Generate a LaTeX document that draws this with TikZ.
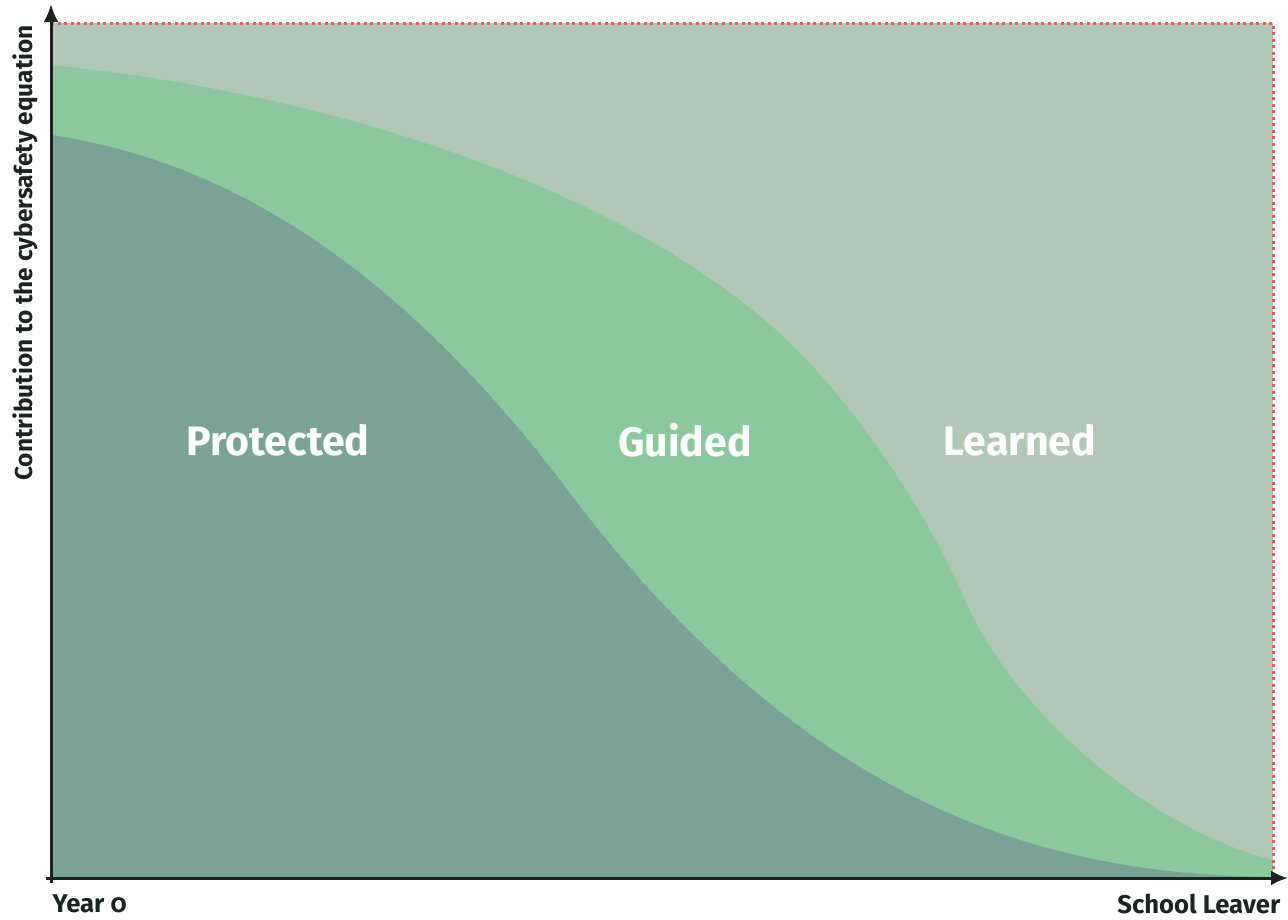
\documentclass[tikz,border=0pt]{standalone}
\usepackage{fontspec}
\setmainfont{Fira Sans}[Numbers=OldStyle]
\usetikzlibrary{arrows.meta}

\definecolor{learnedgreen}{RGB}{177,200,182}
\definecolor{guidedgreen}{RGB}{140,200,158}
\definecolor{protectedgreen}{RGB}{122,162,150}
\definecolor{borderred}{RGB}{228,92,92}
\definecolor{axisdark}{RGB}{28,36,32}

\begin{document}
\begin{tikzpicture}[x=0.1mm,y=-0.1mm,
        zone/.style={text=white,font=\fontsize{11.7}{14}\selectfont\bfseries},
        axislabel/.style={text=axisdark,inner sep=0pt,font=\fontsize{7.3}{9}\selectfont\bfseries}]
        \useasboundingbox (0,0) rectangle (1288,919);
        \coordinate (o) at (51,878);
        \coordinate (tl) at (51,23);
        \coordinate (tr) at (1273,23);
        \coordinate (br) at (1273,878);
        \coordinate (ytip) at (51,4);
        \coordinate (ybot) at (51,883);
        \coordinate (xtip) at (1288,878);
        \coordinate (xleft) at (46,878);
        
        \fill[learnedgreen] (tl) rectangle (br);
        % guided band, upper edge
        \fill[guidedgreen] (o) -- (51,65) .. controls (351,95) and (650,200) .. (800,353)
            .. controls (850,404) and (920,497) .. (965,600)
            .. controls (1015,715) and (1153,830) .. (1273,860) -- (br) -- cycle;
        % protected band, upper edge
        \fill[protectedgreen] (o) -- (51,135) .. controls (221,160) and (390,259) .. (560,480)
            .. controls (798,801) and (1035,875) .. (1273,877) -- (br) -- cycle;
        \draw[borderred,densely dotted,line width=0.3mm] (tl) -- (tr) -- (br);
        
        \draw[axisdark,line width=0.3mm,-{Latex[length=1.8mm,width=1.5mm]}] (ybot) -- (ytip);
        \draw[axisdark,line width=0.3mm,-{Latex[length=1.7mm,width=1.5mm]}] (xleft) -- (xtip);
        
        \node[zone] (protected) at (278,440) {Protected};
        \node[zone] (guided) at (685,440) {Guided};
        \node[zone] (learned) at (1020,440) {Learned};
        
        \node[axislabel,anchor=north west] (start) at (52,894) {Year 0};
        \node[axislabel,anchor=north east] (end) at (1281,893) {School Leaver};
        \node[axislabel,rotate=90,font=\fontsize{6.95}{9}\selectfont\bfseries] (contribution) at (25,253) {Contribution to the cybersafety equation};
        
    \end{tikzpicture}
\end{document}
